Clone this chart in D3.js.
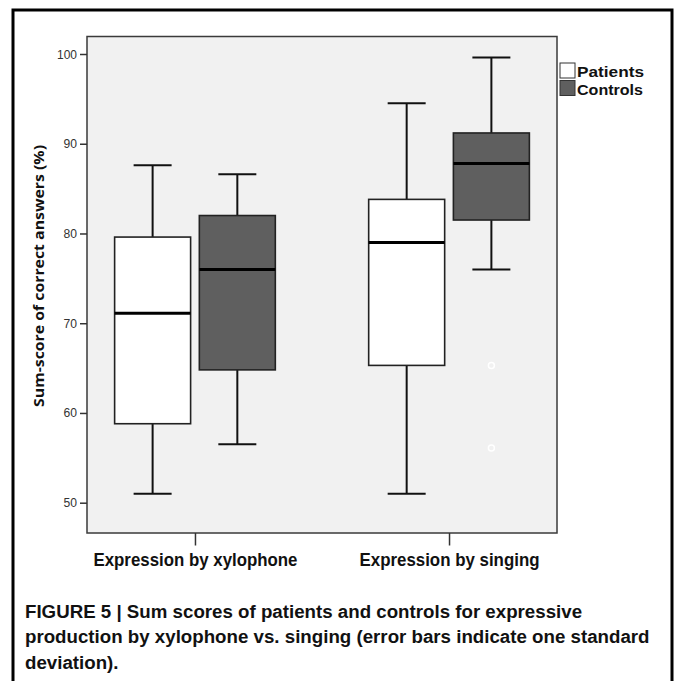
<!DOCTYPE html>
<html><head><meta charset="utf-8">
<script src="https://cdn.jsdelivr.net/npm/d3@7"></script>
<style>html,body{margin:0;padding:0;background:#fff;}svg{display:block;}</style>
</head><body>
<script>
// ---- data ----
const categories = ["Expression by xylophone", "Expression by singing"];
const series = ["Patients", "Controls"];
// [whiskerLow, q1, median, q3, whiskerHigh]
const patientsStats = [[51.0, 58.8, 71.1, 79.6, 87.6], [51.0, 65.3, 79.0, 83.8, 94.5]];
const controlsStats = [[56.5, 64.8, 76.0, 82.0, 86.6], [76.0, 81.5, 87.8, 91.2, 99.6]];
const controlsOutliers = [[], [65.3, 56.1]];
const patientsOutliers = [[], []];
const yTicks = [50, 60, 70, 80, 90, 100];
const yTitle = "Sum-score of correct answers (%)";
const captionLines = [
  "FIGURE 5 | Sum scores of patients and controls for expressive",
  "production by xylophone vs. singing (error bars indicate one standard",
  "deviation)."
];

const W = 674, H = 681;
const FONT = "Liberation Sans, Arial, sans-serif";
const svg = d3.select("body").append("svg").attr("width", W).attr("height", H);

// outer frame (open at bottom)
svg.append("path").attr("d", "M13,690 L13,10 L672,10 L672,690")
  .attr("fill", "none").attr("stroke", "#000").attr("stroke-width", 3);

const plot = {left: 87, right: 557, top: 36.5, bottom: 533};
const y = d3.scaleLinear().domain([50, 100]).range([502.7, 54]);
const x = d3.scalePoint().domain(categories).range([plot.left, plot.right]).padding(0.425);
const inner = d3.scaleBand().domain(series).range([-80.35, 80.35]).paddingInner(0.103);
const fills = {Patients: "#ffffff", Controls: "#5f5f5f"};

function condense(sel, target) {
  sel.attr("textLength", target).attr("lengthAdjust", "spacingAndGlyphs");
}

// plot background
svg.append("rect").attr("x", plot.left).attr("y", plot.top)
  .attr("width", plot.right - plot.left).attr("height", plot.bottom - plot.top)
  .attr("fill", "#f1f1f1").attr("stroke", "#3a3a3a").attr("stroke-width", 1.5);

// y axis
const yAxis = d3.axisLeft(y).tickValues(yTicks).tickSize(7).tickPadding(3).tickFormat(d3.format("d"));
const ya = svg.append("g").attr("transform", `translate(${plot.left},0)`).call(yAxis);
ya.select(".domain").remove();
ya.selectAll(".tick line").attr("stroke", "#333").attr("stroke-width", 1.5);
ya.selectAll(".tick text").attr("font-family", FONT).attr("font-size", 12.5).attr("fill", "#333")
  .each(function(d) { condense(d3.select(this), d === 100 ? 20 : 13.5); });

// x axis
const xAxis = d3.axisBottom(x).tickSize(12.5).tickPadding(8);
const xa = svg.append("g").attr("transform", `translate(0,${plot.bottom})`).call(xAxis);
xa.select(".domain").remove();
xa.selectAll(".tick line").attr("stroke", "#333").attr("stroke-width", 1.5);
xa.selectAll(".tick text").attr("font-family", FONT)
  .attr("font-weight", "bold").attr("font-size", 17.5).attr("fill", "#111")
  .each(function(d, i) { condense(d3.select(this), i === 0 ? 204 : 180); });

// y title
const yt = svg.append("text").attr("transform", "translate(44,276) rotate(-90)")
  .attr("text-anchor", "middle").attr("font-family", "Open Sans, Liberation Sans, sans-serif")
  .attr("font-weight", "bold").attr("font-size", 15).attr("fill", "#111").text(yTitle);
condense(yt, 262);

// boxes
const groups = [];
categories.forEach((c, ci) => {
  series.forEach(s => {
    const st = s === "Patients" ? patientsStats[ci] : controlsStats[ci];
    const out = s === "Patients" ? patientsOutliers[ci] : controlsOutliers[ci];
    groups.push({c, s, st, out});
  });
});
const bw = inner.bandwidth();
const g = svg.append("g").selectAll("g").data(groups).join("g")
  .attr("transform", d => `translate(${x(d.c) + inner(d.s)},0)`);
const cx = bw / 2;
// whiskers
g.append("line").attr("x1", cx).attr("x2", cx).attr("y1", d => y(d.st[4])).attr("y2", d => y(d.st[3]))
  .attr("stroke", "#111").attr("stroke-width", 2);
g.append("line").attr("x1", cx).attr("x2", cx).attr("y1", d => y(d.st[1])).attr("y2", d => y(d.st[0]))
  .attr("stroke", "#111").attr("stroke-width", 2);
g.append("line").attr("x1", cx - bw / 4).attr("x2", cx + bw / 4).attr("y1", d => y(d.st[4])).attr("y2", d => y(d.st[4]))
  .attr("stroke", "#111").attr("stroke-width", 2);
g.append("line").attr("x1", cx - bw / 4).attr("x2", cx + bw / 4).attr("y1", d => y(d.st[0])).attr("y2", d => y(d.st[0]))
  .attr("stroke", "#111").attr("stroke-width", 2);
// box
g.append("rect").attr("x", 0).attr("width", bw).attr("y", d => y(d.st[3]))
  .attr("height", d => y(d.st[1]) - y(d.st[3]))
  .attr("fill", d => fills[d.s]).attr("stroke", "#222").attr("stroke-width", 1.6);
// median
g.append("line").attr("x1", 0).attr("x2", bw).attr("y1", d => y(d.st[2])).attr("y2", d => y(d.st[2]))
  .attr("stroke", "#000").attr("stroke-width", 3);
// outliers
g.selectAll("circle").data(d => d.out).join("circle")
  .attr("cx", cx).attr("cy", v => y(v)).attr("r", 3)
  .attr("fill", "none").attr("stroke", "#fff").attr("stroke-width", 1.5);

// legend
const lg = svg.append("g").selectAll("g").data(series).join("g")
  .attr("transform", (d, i) => `translate(560,${63 + i * 17.5})`);
lg.append("rect").attr("width", 15).attr("height", 15)
  .attr("fill", d => fills[d]).attr("stroke", "#333").attr("stroke-width", 1);
const lt = lg.append("text").attr("x", 17).attr("y", 14).attr("font-family", FONT)
  .attr("font-weight", "bold").attr("font-size", 15).attr("fill", "#111").text(d => d);
lt.each(function(d) { condense(d3.select(this), d === "Patients" ? 67 : 66); });

// caption (horizontally condensed as in the original typeface)
const capG = svg.append("g");
const cap = capG.selectAll("text").data(captionLines).join("text")
  .attr("x", 0).attr("y", (d, i) => 618 + i * 25.5)
  .attr("font-family", FONT).attr("font-weight", "bold")
  .attr("font-size", 19).attr("fill", "#111").text(d => d);
const l2 = cap.filter((d, i) => i === 1).node();
const sx = 625 / l2.getComputedTextLength();
capG.attr("transform", `translate(25,0) scale(${sx},1)`);
</script>
</body></html>
